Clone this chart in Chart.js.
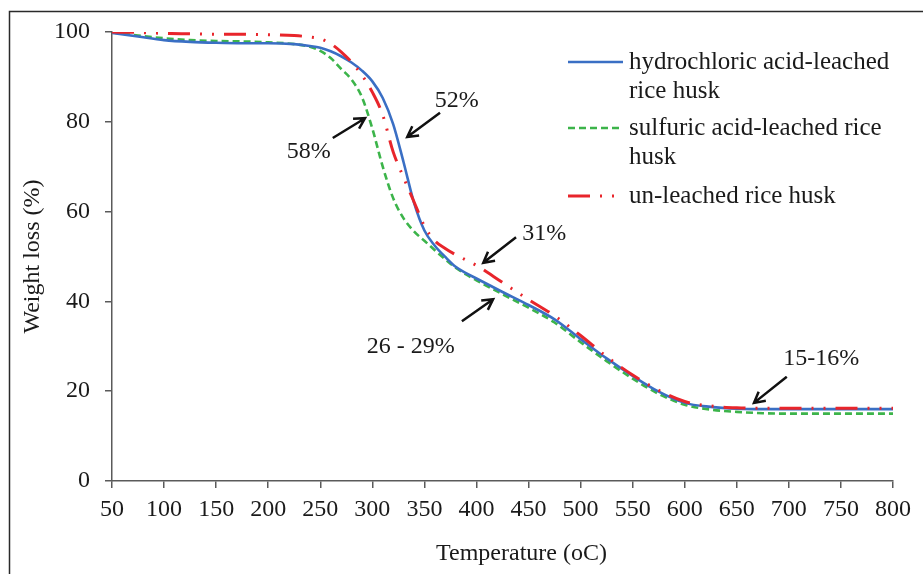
<!DOCTYPE html>
<html>
<head>
<meta charset="utf-8">
<script src="https://cdn.jsdelivr.net/npm/chart.js@4.4.1/dist/chart.umd.min.js"></script>
<style>
  html, body { margin: 0; padding: 0; background: #fff; }
  canvas { display: block; }
</style>
</head>
<body>
<canvas id="tga" width="923" height="574"></canvas>
<script>
// values
const temps = [50, 75, 100, 125, 150, 175, 200, 225, 240, 250, 260, 270, 280, 290, 300, 310, 320, 330, 340, 350, 360, 370, 380, 390, 400, 425, 450, 475, 500, 525, 550, 575, 600, 625, 650, 675, 700, 750, 800];

const hclLeached = [99.8, 99, 98.2, 97.8, 97.6, 97.5, 97.5, 97.3, 96.9, 96.5, 95.7, 94.6, 93.2, 91.4, 89, 85.3, 79.5, 71, 62, 55.8, 52.4, 49.9, 47.7, 46.3, 45.1, 42.1, 39.2, 36, 31.6, 27.3, 23.4, 19.9, 17.4, 16.5, 16.1, 16, 16, 16, 16];
const h2so4Leached = [99.9, 99.2, 98.6, 98.2, 98, 97.9, 97.7, 97.3, 96.7, 95.8, 94.2, 91.8, 89.4, 85.5, 78.5, 70, 63, 58.5, 55.6, 53.5, 51.4, 49.4, 47.5, 46, 44.7, 41.6, 38.6, 35.3, 30.9, 26.7, 22.8, 19.4, 17, 15.9, 15.4, 15.1, 15, 15, 15];
const unLeached = [100, 99.9, 99.7, 99.6, 99.5, 99.5, 99.4, 99.2, 98.9, 98.5, 97.4, 95.6, 93.3, 90.4, 86.6, 81.5, 73.3, 67.6, 62.2, 56.8, 53.5, 51.8, 50.4, 49.2, 48, 44.2, 40.4, 36.8, 32.4, 27.7, 23.6, 20.2, 17.7, 16.7, 16.3, 16.2, 16.2, 16.2, 16.2];

const xTicks = { min: 50, max: 800, step: 50 };
const yTicks = { min: 0, max: 100, step: 20 };

const xTitle = "Temperature (oC)";
const yTitle = "Weight loss (%)";

const seriesNames = [
  ["hydrochloric acid-leached", "rice husk"],
  ["sulfuric acid-leached rice", "husk"],
  ["un-leached rice husk"]
];

// arrows + labels, in data units
const notes = [
  { text: "58%", at: [239, 71.9], from: [262, 76.4], to: [293, 80.8] },
  { text: "52%", at: [381, 83.3], from: [365, 82], to: [333.5, 76.6] },
  { text: "31%", at: [465, 53.7], from: [438, 54.3], to: [406.5, 48.6] },
  { text: "26 - 29%", at: [337, 28.5], from: [386, 35.6], to: [416, 40.5] },
  { text: "15-16%", at: [731, 25.8], from: [698, 23.2], to: [666.5, 17.4] }
];

const SERIF = "'Liberation Serif', 'Times New Roman', serif";
const TXT = "#1a1a1a";
const AXIS = "#5a5a5a";

const BLUE = "#3a6fc4";
const GREEN = "#3cb44a";
const RED = "#e8252b";

const styles = [
  { color: BLUE, width: 2.6, dash: [] },
  { color: GREEN, width: 2.6, dash: [7, 4] },
  { color: RED, width: 3, dash: [22, 10, 2, 10, 2, 10] }
];

function pts(vals) {
  return temps.map((t, i) => ({ x: t, y: vals[i] }));
}

function ds(label, vals, st, order) {
  return {
    label: label,
    data: pts(vals),
    borderColor: st.color,
    borderWidth: st.width,
    borderDash: st.dash,
    borderCapStyle: "butt",
    pointRadius: 0,
    fill: false,
    cubicInterpolationMode: "monotone",
    order: order
  };
}

// outer frame, legend, x title and arrows
const extras = {
  id: "extras",
  beforeDraw(chart) {
    const ctx = chart.ctx;
    ctx.save();
    ctx.fillStyle = "#fff";
    ctx.fillRect(0, 0, chart.width, chart.height);
    ctx.strokeStyle = "#2a2a2a";
    ctx.lineWidth = 1.5;
    ctx.beginPath();
    ctx.moveTo(9.5, chart.height + 5);
    ctx.lineTo(9.5, 11.5);
    ctx.lineTo(chart.width + 5, 11.5);
    ctx.stroke();
    ctx.restore();
  },
  afterDraw(chart) {
    const ctx = chart.ctx;
    const xs = chart.scales.x, ys = chart.scales.y;
    const area = chart.chartArea;
    ctx.save();

    // x axis title (sits a bit right of centre in the original)
    ctx.font = "24px " + SERIF;
    ctx.fillStyle = TXT;
    ctx.textAlign = "center";
    ctx.textBaseline = "alphabetic";
    ctx.fillText(xTitle, (area.left + area.right) / 2 + 19, 560);

    // legend
    const lx = 568, tx = 629;
    const rows = [62, 128, 196];
    ctx.font = "25px " + SERIF;
    ctx.textAlign = "left";
    seriesNames.forEach((lines, i) => {
      const st = styles[i];
      ctx.strokeStyle = st.color;
      ctx.lineWidth = st.width;
      ctx.lineCap = "butt";
      ctx.setLineDash(st.dash);
      ctx.beginPath();
      ctx.moveTo(lx, rows[i]);
      ctx.lineTo(lx + 55, rows[i]);
      ctx.stroke();
      ctx.setLineDash([]);
      lines.forEach((ln, k) => {
        ctx.fillText(ln, tx, rows[i] + 7 + k * 29);
      });
    });

    // annotations
    ctx.strokeStyle = "#111";
    ctx.lineWidth = 2.5;
    ctx.font = "24px " + SERIF;
    ctx.textAlign = "center";
    notes.forEach(n => {
      const x0 = xs.getPixelForValue(n.from[0]), y0 = ys.getPixelForValue(n.from[1]);
      const x1 = xs.getPixelForValue(n.to[0]), y1 = ys.getPixelForValue(n.to[1]);
      const a = Math.atan2(y1 - y0, x1 - x0);
      const h = 12, sp = 0.5;
      ctx.beginPath();
      ctx.moveTo(x0, y0);
      ctx.lineTo(x1, y1);
      ctx.moveTo(x1 - h * Math.cos(a - sp), y1 - h * Math.sin(a - sp));
      ctx.lineTo(x1, y1);
      ctx.lineTo(x1 - h * Math.cos(a + sp), y1 - h * Math.sin(a + sp));
      ctx.stroke();
      ctx.fillText(n.text, xs.getPixelForValue(n.at[0]), ys.getPixelForValue(n.at[1]));
    });
    ctx.restore();
  }
};

new Chart(document.getElementById("tga"), {
  type: "line",
  data: {
    datasets: [
      ds(seriesNames[0].join(" "), hclLeached, styles[0], 1),
      ds(seriesNames[1].join(" "), h2so4Leached, styles[1], 2),
      ds(seriesNames[2].join(" "), unLeached, styles[2], 0)
    ]
  },
  options: {
    responsive: false,
    animation: false,
    layout: { padding: { left: 10, right: 30, top: 32, bottom: 0 } },
    plugins: {
      legend: { display: false },
      tooltip: { enabled: false }
    },
    scales: {
      x: {
        type: "linear",
        min: xTicks.min,
        max: xTicks.max,
        ticks: { stepSize: xTicks.step, color: TXT, padding: 7, maxRotation: 0, font: { family: SERIF, size: 24 } },
        grid: { display: true, drawOnChartArea: false, drawTicks: true, tickLength: 7, color: AXIS, lineWidth: 1.5 },
        border: { display: true, color: AXIS, width: 1.5 },
        title: { display: false, text: xTitle },
        afterFit: s => { s.height = 93; }
      },
      y: {
        min: yTicks.min,
        max: yTicks.max,
        ticks: { stepSize: yTicks.step, color: TXT, padding: 15, font: { family: SERIF, size: 24 } },
        grid: { display: true, drawOnChartArea: false, drawTicks: true, tickLength: 7, color: AXIS, lineWidth: 1.5 },
        border: { display: true, color: AXIS, width: 1.5 },
        title: { display: true, text: yTitle, color: TXT, font: { family: SERIF, size: 24 }, padding: { top: 8, bottom: 0 } },
        afterFit: s => { s.width = 102; }
      }
    }
  },
  plugins: [extras]
});
</script>
</body>
</html>
